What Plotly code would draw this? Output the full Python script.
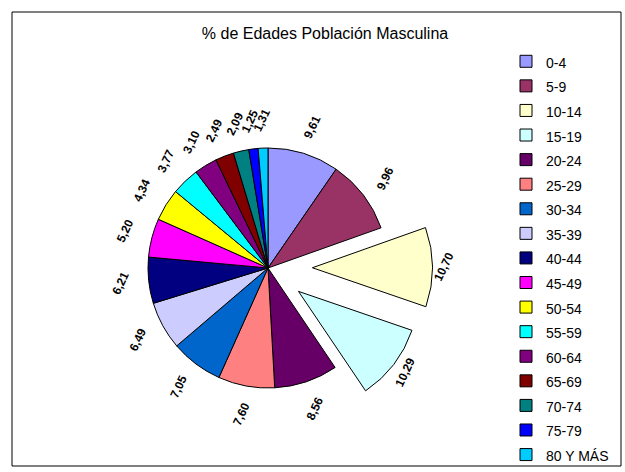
import numpy as np
import plotly.graph_objects as go

# datos
edades = ['0-4', '5-9', '10-14', '15-19', '20-24', '25-29', '30-34', '35-39', '40-44',
          '45-49', '50-54', '55-59', '60-64', '65-69', '70-74', '75-79', '80 Y MÁS']
porcentajes = [9.61, 9.96, 10.70, 10.29, 8.56, 7.60, 7.05, 6.49, 6.21,
               5.20, 4.34, 3.77, 3.10, 2.49, 2.09, 1.25, 1.31]
colores = ['#9999FF', '#993366', '#FFFFCC', '#CCFFFF', '#660066', '#FF8080', '#0066CC',
           '#CCCCFF', '#000080', '#FF00FF', '#FFFF00', '#00FFFF', '#800080', '#800000',
           '#008080', '#0000FF', '#00CCFF']
separacion = [0, 0, 0.37, 0.32, 0, 0, 0, 0, 0, 0, 0, 0, 0, 0, 0, 0, 0]

W, H = 625, 472
cx, cy, r = 268, 268, 120
half = r * (1 + max(separacion))

fig = go.Figure()
fig.add_trace(go.Pie(
    labels=['<span style="font-size:14px">%s</span>' % e for e in edades],
    values=porcentajes,
    sort=False,
    direction='clockwise',
    rotation=0,
    pull=separacion,
    marker=dict(colors=colores, line=dict(color='black', width=1)),
    textinfo='none',
    hovertemplate='%{label}: %{value:.2f}<extra></extra>',
    domain=dict(x=[(cx - half) / W, (cx + half) / W],
                y=[1 - (cy + half) / H, 1 - (cy - half) / H]),
))

# etiquetas de datos giradas, fuera de cada porcion
total = sum(porcentajes)
acum = 0
for v, p in zip(porcentajes, separacion):
    ang = np.radians(360 * (acum + v / 2) / total)
    acum += v
    dist = r * (1 + p) + 28 - 45 * p
    px = cx + dist * np.sin(ang)
    py = cy - dist * np.cos(ang)
    fig.add_annotation(
        x=px / W, y=1 - py / H, xref='paper', yref='paper',
        xanchor='center', yanchor='middle',
        text='<b>%s</b>' % ('%.2f' % v).replace('.', ','),
        showarrow=False, textangle=-65,
        font=dict(family='Arial, Liberation Sans', size=12, color='black'),
    )

fig.add_shape(type='rect', xref='paper', yref='paper',
              x0=12 / W, x1=621 / W, y0=1 - 466 / H, y1=1 - 12 / H,
              line=dict(color='black', width=1))

fig.update_layout(
    width=W, height=H,
    margin=dict(l=0, r=0, t=0, b=0),
    paper_bgcolor='white',
    font=dict(family='Arial, Liberation Sans', color='black'),
    title=dict(text='% de Edades Población Masculina', x=325 / W, xanchor='center',
               y=1 - 33 / H, yanchor='middle', font=dict(size=16)),
    legend=dict(x=506 / W, xanchor='left', y=1 - 44.7 / H, yanchor='top',
                font=dict(size=16.6), bgcolor='rgba(0,0,0,0)'),
    showlegend=True,
)

fig.write_html("out.html", config={'displayModeBar': False},
               post_script="document.body.style.margin='0';")
